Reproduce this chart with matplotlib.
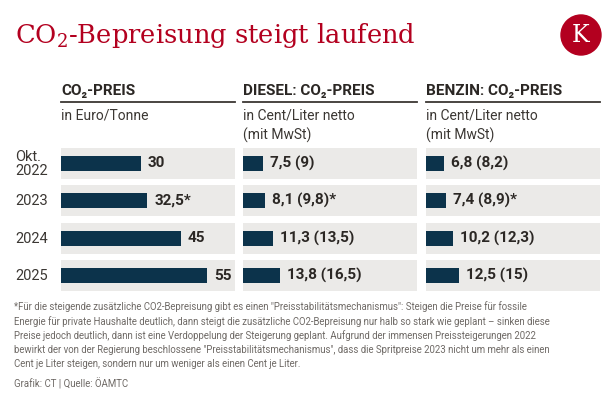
import matplotlib.pyplot as plt
from matplotlib.patches import Circle

# data
years = ["Okt.\n2022", "2023", "2024", "2025"]
co2_preis = [30, 32.5, 45, 55]
diesel = [7.5, 8.1, 11.3, 13.8]
benzin = [6.8, 7.4, 10.2, 12.5]
co2_labels = ["30", "32,5*", "45", "55"]
diesel_labels = ["7,5 (9)", "8,1 (9,8)*", "11,3 (13,5)", "13,8 (16,5)"]
benzin_labels = ["6,8 (8,2)", "7,4 (8,9)*", "10,2 (12,3)", "12,5 (15)"]
headers = ["CO₂-PREIS", "DIESEL: CO₂-PREIS", "BENZIN: CO₂-PREIS"]
subheads = ["in Euro/Tonne", "in Cent/Liter netto\n(mit MwSt)", "in Cent/Liter netto\n(mit MwSt)"]

footnote_lines = [
    "*Für die steigende zusätzliche CO2-Bepreisung gibt es einen \"Preisstabilitätsmechanismus\": Steigen die Preise für fossile",
    "Energie für private Haushalte deutlich, dann steigt die zusätzliche CO2-Bepreisung nur halb so stark wie geplant – sinken diese",
    "Preise jedoch deutlich, dann ist eine Verdoppelung der Steigerung geplant. Aufgrund der immensen Preissteigerungen 2022",
    "bewirkt der von der Regierung beschlossene \"Preisstabilitätsmechanismus\", dass die Spritpreise 2023 nicht um mehr als einen",
    "Cent je Liter steigen, sondern nur um weniger als einen Cent je Liter.",
]
source = "Grafik: CT | Quelle: ÖAMTC"

W, H = 616, 401
RED = "#b3001f"
NAVY = "#0c334b"
BAND = "#ebeae8"
DARK = "#2b2724"
SANS = ["Roboto", "DejaVu Sans"]
plt.rcParams["mathtext.fontset"] = "dejavuserif"

fig = plt.figure(figsize=(W / 100, H / 100), dpi=100)
fig.patch.set_facecolor("white")


def px(x, y):
    return x / W, 1 - y / H


def text(x, y, s, **kw):
    fx, fy = px(x, y)
    return fig.text(fx, fy, s, **kw)


# title and logo
text(15, 43, "CO$_2$-Bepreisung steigt laufend", family="DejaVu Serif",
     fontsize=18.5, color=RED, va="baseline")
logo = fig.add_axes([0, 0, 1, 1], zorder=-1)
logo.set_xlim(0, W)
logo.set_ylim(H, 0)
logo.axis("off")
logo.add_patch(Circle((581, 35), 20, color=RED))
logo.text(581, 36, "K", family="DejaVu Serif", fontsize=17, color="white",
          ha="center", va="center")

# columns
cols_x = [61, 243, 426]
col_w = 174
values = [co2_preis, diesel, benzin]
labels = [co2_labels, diesel_labels, benzin_labels]
top, bottom = 144.8, 294.2
xmax = 65.5

for cx, vals, labs, head, sub in zip(cols_x, values, labels, headers, subheads):
    ax = fig.add_axes([cx / W, 1 - bottom / H, col_w / W, (bottom - top) / H])
    pos = range(len(vals))
    ax.barh(pos, [xmax] * len(vals), height=0.83, color=BAND, zorder=1)
    ax.barh(pos, vals, height=0.40, color=NAVY, zorder=2)
    for p, v, lab in zip(pos, vals, labs):
        ax.annotate(lab, (v, p), xytext=(7, 0), textcoords="offset pixels",
                    va="center", ha="left", fontsize=11, fontweight="bold",
                    color=DARK, family=SANS)
    ax.set_xlim(0, xmax)
    ax.set_ylim(3.5, -0.5)
    ax.axis("off")

    text(cx, 95, head, fontsize=11, fontweight="bold", color=DARK,
         family=SANS, va="baseline")
    fig.add_artist(plt.Line2D([cx / W, (cx + col_w) / W],
                              [1 - 102 / H, 1 - 102 / H],
                              color="#3b3733", lw=1.3))
    text(cx, 109, sub, fontsize=10, color="#3b3733", family=SANS,
         va="top", linespacing=1.4)

# row labels
for i, y in enumerate(years):
    yc = 164 + i * 37.33
    text(15, yc, y, fontsize=10.5, color="#3b3733", family=SANS,
         va="center", linespacing=1.0)

# footnote, one line at a time for even spacing
for i, line in enumerate(footnote_lines):
    text(14, 307 + i * 14.2, line, fontsize=6.9, color="#6f6a66",
         family=SANS, va="center")
text(14, 384, source, fontsize=6.9, color="#6f6a66", family=SANS,
     va="center")

fig.savefig("out.png", dpi=100)
